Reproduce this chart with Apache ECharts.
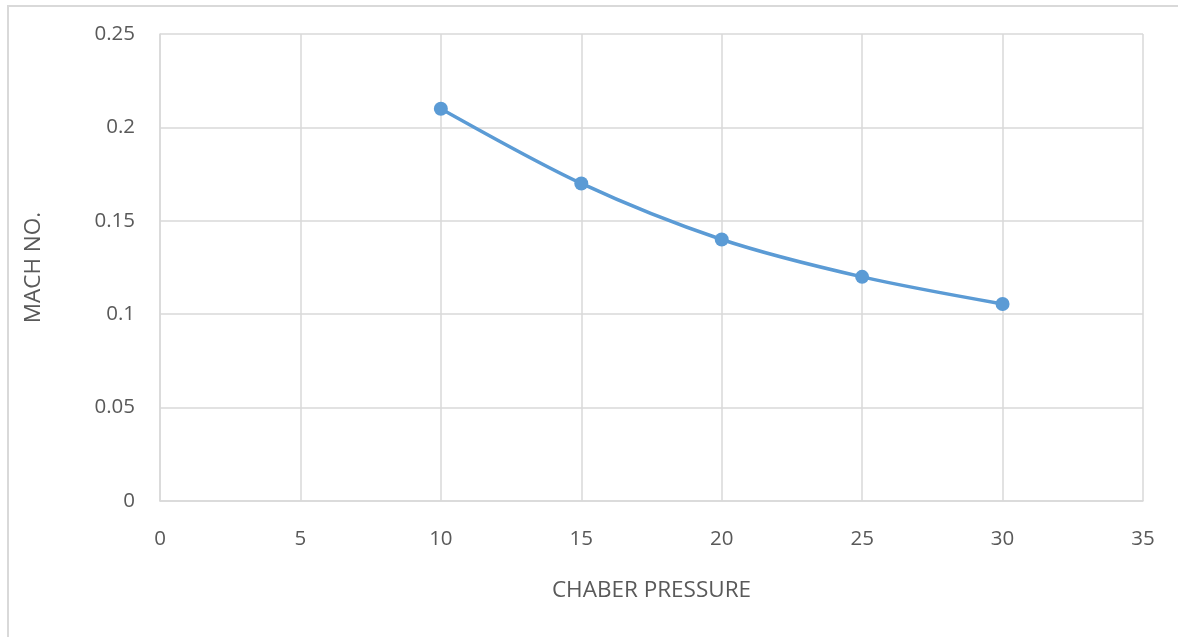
<!DOCTYPE html>
<html>
<head>
<meta charset="utf-8">
<script src="https://cdn.jsdelivr.net/npm/echarts@6/dist/echarts.min.js"></script>
<style>
  html, body { margin: 0; padding: 0; background: #fff; }
  #chart { width: 1178px; height: 637px; }
</style>
</head>
<body>
<div id="chart"></div>
<script>
// Chamber pressure vs. Mach number
const pressure = [10, 15, 20, 25, 30];
const machNo = [0.21, 0.17, 0.14, 0.12, 0.1055];

const xAxisName = 'CHABER PRESSURE';
const yAxisName = 'MACH NO.';

const textColor = '#595959';
const gridColor = '#d9d9d9';
const fontFamily = '"Open Sans", "Liberation Sans", sans-serif';

const chart = echarts.init(document.getElementById('chart'), null, { renderer: 'canvas' });

chart.setOption({
  backgroundColor: '#fff',
  animation: false,
  graphic: [{
    type: 'rect',
    shape: { x: 8, y: 6, width: 1200, height: 700 },
    style: { fill: 'none', stroke: '#d9d9d9', lineWidth: 2 },
    z: -1
  }],
  grid: { left: 160, top: 34, right: 35, bottom: 136 },
  xAxis: {
    type: 'value',
    min: 0, max: 35, interval: 5,
    name: xAxisName,
    nameLocation: 'middle',
    nameGap: 78,
    nameTextStyle: { color: textColor, fontSize: 22.5, fontFamily: fontFamily },
    axisLine: { show: true, lineStyle: { color: gridColor, width: 1.5 } },
    axisTick: { show: false },
    axisLabel: { color: textColor, fontSize: 20.5, fontFamily: fontFamily, margin: 28 },
    splitLine: { show: true, lineStyle: { color: gridColor, width: 1.5 } }
  },
  yAxis: {
    type: 'value',
    min: 0, max: 0.25, interval: 0.05,
    name: yAxisName,
    nameLocation: 'middle',
    nameGap: 115,
    nameRotate: 90,
    nameTextStyle: { color: textColor, fontSize: 22.5, fontFamily: fontFamily },
    axisLine: { show: true, lineStyle: { color: gridColor, width: 1.5 } },
    axisTick: { show: false },
    axisLabel: { color: textColor, fontSize: 20.5, fontFamily: fontFamily, margin: 25 },
    splitLine: { show: true, lineStyle: { color: gridColor, width: 1.5 } }
  },
  series: [{
    type: 'line',
    data: pressure.map((p, i) => [p, machNo[i]]),
    smooth: 0.3,
    symbol: 'circle',
    symbolSize: 14,
    lineStyle: { color: '#5b9bd5', width: 3.5 },
    itemStyle: { color: '#5b9bd5' }
  }]
});
</script>
</body>
</html>
